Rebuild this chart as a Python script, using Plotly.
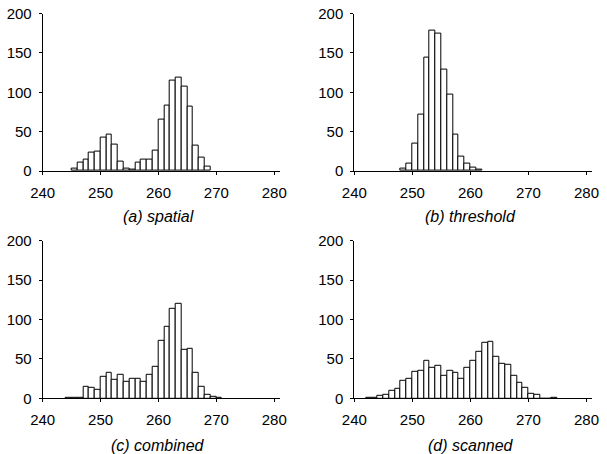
import plotly.graph_objects as go

# Histogram counts per 1-unit bin (bin start values and counts)
bins_a = list(range(245, 269))
counts_a = [3, 11, 14, 23, 25, 42, 46, 33, 12, 3, 2, 11, 14, 14, 26,
            65, 83, 115, 119, 107, 82, 32, 17, 6]

bins_b = list(range(248, 262))
counts_b = [3, 9, 35, 72, 144, 178, 174, 129, 97, 46, 18, 10, 4, 2]

bins_c = list(range(244, 271))
counts_c = [1, 1, 1, 14, 13, 11, 27, 33, 23, 30, 21, 25, 25, 21, 30,
            40, 73, 91, 114, 120, 61, 63, 33, 14, 4, 2, 1]

bins_d = list(range(242, 275))
counts_d = [1, 1, 3, 4, 10, 12, 22, 25, 34, 35, 47, 39, 41, 28, 35, 33,
            25, 39, 48, 59, 70, 72, 53, 44, 43, 29, 20, 13, 6, 4, 0, 0, 1]

captions = ["(a) spatial", "(b) threshold", "(c) combined", "(d) scanned"]
x_ticks = [240, 250, 260, 270, 280]
y_ticks = [0, 50, 100, 150, 200]

panels = [(bins_a, counts_a), (bins_b, counts_b), (bins_c, counts_c), (bins_d, counts_d)]

W, H = 607, 454
x_dom = [[42.7 / W, 280.0 / W], [354.3 / W, 592.3 / W]]
y_dom = [[(H - 171.0) / H, (H - 13.6) / H], [(H - 398.3) / H, (H - 240.8) / H]]

FONT = "Liberation Sans, Arial, sans-serif"
TICK_SIZE = 15
CAPTION_SIZE = 16
fig = go.Figure()

layout = dict(
    width=W, height=H,
    margin=dict(l=0, r=0, t=0, b=0),
    paper_bgcolor="white", plot_bgcolor="white",
    showlegend=False, bargap=0,
    font=dict(family=FONT, size=TICK_SIZE, color="#000000"),
)

for i, (bins, counts) in enumerate(panels):
    n = i + 1
    sfx = "" if n == 1 else str(n)
    row, col = divmod(i, 2)
    fig.add_trace(go.Bar(
        x=[b + 0.5 for b in bins], y=counts, width=1.0,
        marker=dict(color="white", line=dict(color="black", width=1)),
        xaxis="x" + sfx, yaxis="y" + sfx, hoverinfo="x+y",
    ))
    common_x = dict(range=[240, 281], tickvals=x_ticks, showgrid=False,
                    zeroline=False, automargin=False)
    common_y = dict(range=[0, 200], tickvals=y_ticks, showgrid=False,
                    zeroline=False, automargin=False)
    layout["xaxis" + sfx] = dict(
        domain=x_dom[col], anchor="y" + sfx, showline=True, linecolor="black",
        linewidth=1, ticks="outside", ticklen=3, tickcolor="black",
        tickfont=dict(size=TICK_SIZE), ticklabelstandoff=5, **common_x)
    layout["yaxis" + sfx] = dict(
        domain=y_dom[row], anchor="x" + sfx, showline=True, linecolor="black",
        linewidth=1, ticks="outside", ticklen=3, tickcolor="black",
        tickfont=dict(size=TICK_SIZE), ticklabelstandoff=4, **common_y)
    # companion axes give the ticks their inner half, so each tick crosses the line
    layout["xaxis" + str(n + 4)] = dict(
        overlaying="x" + sfx, anchor="y" + sfx, side="bottom", ticks="inside",
        ticklen=3, tickcolor="black", showticklabels=False, showline=False,
        **common_x)
    layout["yaxis" + str(n + 4)] = dict(
        overlaying="y" + sfx, anchor="x" + sfx, side="left", ticks="inside",
        ticklen=3, tickcolor="black", showticklabels=False, showline=False,
        **common_y)

cap_x = [158.5 / W, 470.5 / W]
cap_y = [(H - 216.0) / H, (H - 445.0) / H]
annotations = []
for i, text in enumerate(captions):
    row, col = divmod(i, 2)
    annotations.append(dict(
        text="<i>" + text + "</i>", x=cap_x[col], y=cap_y[row],
        xref="paper", yref="paper", xanchor="center", yanchor="middle",
        showarrow=False, font=dict(family=FONT, size=CAPTION_SIZE, color="#000000")))
layout["annotations"] = annotations

fig.update_layout(**layout)
fig.write_html("out.html")
